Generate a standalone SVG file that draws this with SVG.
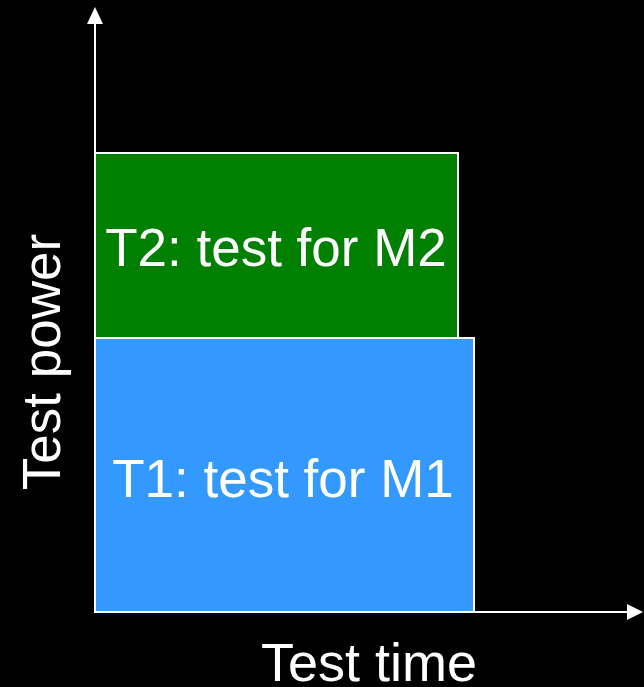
<svg xmlns="http://www.w3.org/2000/svg" width="644" height="687" viewBox="0 0 644 687">
<style>
.lbl{font-family:"Liberation Sans",Arial,sans-serif;fill:#fff;font-size:53px;text-anchor:middle}
.box{stroke:#fff;stroke-width:2}
.ax{stroke:#fff;stroke-width:2;fill:none}
</style>
<rect width="644" height="687" fill="#000"/>
<g id="T2"><rect class="box" x="95" y="153" width="363" height="185" fill="#008000"/><text class="lbl" x="276" y="266">T2: test for M2</text></g>
<g id="T1"><rect class="box" x="95" y="338" width="379" height="274" fill="#3399ff"/><text class="lbl" x="283" y="497">T1: test for M1</text></g>
<g id="axes">
<line class="ax" x1="95" y1="612" x2="95" y2="22"/>
<polygon points="95,7 87,24 103,24" fill="#fff"/>
<line class="ax" x1="95" y1="612" x2="628" y2="612"/>
<polygon points="643,612 627,604 627,620" fill="#fff"/>
</g>
<text class="lbl" x="369" y="681" style="font-size:54px">Test time</text>
<text class="lbl" transform="translate(60,362) rotate(-90)">Test power</text>
</svg>
